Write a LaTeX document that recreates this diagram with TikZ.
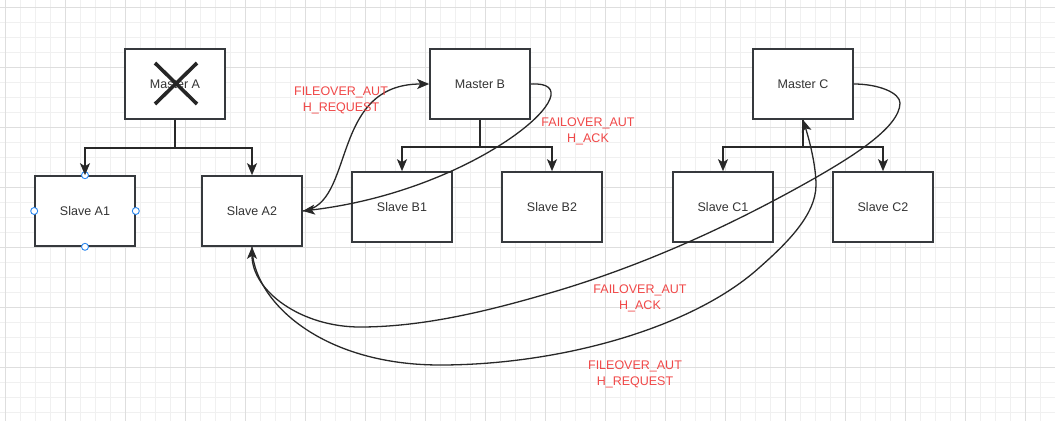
\documentclass[tikz,border=0pt]{standalone}
\usepackage{fontspec}
\setmainfont{Liberation Sans}
\usetikzlibrary{arrows.meta}
\definecolor{boxgray}{RGB}{54,57,61}
\definecolor{linkgray}{RGB}{40,40,40}
\definecolor{textgray}{RGB}{51,51,51}
\definecolor{notered}{RGB}{240,72,72}
\definecolor{handleblue}{RGB}{41,135,240}
\definecolor{gridminor}{RGB}{240,240,240}
\definecolor{gridmajor}{RGB}{222,222,222}
\tikzset{
  node-box/.style={
    rectangle,
    draw=boxgray,
    fill=white,
    line width=1.6pt,
    minimum width=100pt,
    minimum height=70pt,
    inner sep=0pt,
    text=textgray,
    font=\fontsize{12.5}{15}\selectfont
  },
  note-red/.style={
    align=center,
    text=notered,
    inner sep=0pt,
    font=\fontsize{12.5}{16}\selectfont
  },
  tree/.style={
    draw=linkgray,
    line width=1.6pt,
    -{Stealth[length=12pt,width=10pt,inset=3pt]}
  },
  link/.style={
    draw=linkgray,
    line width=1.3pt,
    -{Stealth[length=12pt,width=10pt,inset=3pt]}
  },
  handle/.style={
    circle,
    draw=handleblue,
    fill=white,
    line width=0.9pt,
    minimum size=7pt,
    inner sep=0pt
  }
}
\newcommand{\paperbg}{%
  \useasboundingbox (0,0) rectangle (1055,421);
  \fill[white] (0,0) rectangle (1055,421);
  \foreach \x in {5,20,...,1050}
    \draw[gridminor, line width=1pt] (\x,0) -- (\x,421);
  \foreach \y in {7.5,22.5,...,420}
    \draw[gridminor, line width=1pt] (0,\y) -- (1055,\y);
  \foreach \x in {5,65,...,1050}
    \draw[gridmajor, line width=1pt] (\x,0) -- (\x,421);
  \foreach \y in {7.5,67.5,...,420}
    \draw[gridmajor, line width=1pt] (0,\y) -- (1055,\y);
}

\begin{document}
\begin{tikzpicture}[x=1pt, y=-1pt]
  \paperbg
  \node[node-box] (mA) at (175,84) {Master A};
  \node[node-box] (sA1) at (85,211) {Slave A1};
  \node[node-box] (sA2) at (252,211) {Slave A2};
  \node[node-box] (mB) at (480,84) {Master B};
  \node[node-box] (sB1) at (402,207) {Slave B1};
  \node[node-box] (sB2) at (552,207) {Slave B2};
  \node[node-box] (mC) at (803,84) {Master C};
  \node[node-box] (sC1) at (723,207) {Slave C1};
  \node[node-box] (sC2) at (883,207) {Slave C2};
  \draw[black!85, line width=3.6pt] (155,63) -- (197,104);
  \draw[black!85, line width=3.6pt] (197,63) -- (155,104);
  \foreach \a in {north,south,east,west}
    \node[handle] at (sA1.\a) {};
  \draw[tree] (mA.south) -- ++(0,28) coordinate (jA) -| (sA1.north);
  \draw[tree] (jA) -| (sA2.north);
  \draw[tree] (mB.south) -- ++(0,27) coordinate (jB) -| (sB1.north);
  \draw[tree] (jB) -| (sB2.north);
  \draw[tree] (mC.south) -- ++(0,27) coordinate (jC) -| (sC1.north);
  \draw[tree] (jC) -| (sC2.north);
  \draw[link] (sA2.east) .. controls +(53,-6) and +(-100,0) .. (mB.west);
  \draw[link] (mB.east) .. controls +(70,-4) and +(178,-21) .. (sA2.east);
  \draw[link] (mC.east) .. controls (879,84) and (900,93) .. (900,103)
    .. controls (900,128) and (848,159) .. (815,178)
    .. controls (734,224) and (649,263) .. (560,290)
    .. controls (496,309) and (427,327) .. (360,327)
    .. controls (301,327) and (252,291) .. (sA2.south);
  \draw[link] (sA2.south) .. controls (252,300) and (320,365) .. (440,365)
    .. controls (560,365) and (693,328) .. (760,267)
    .. controls (786,244) and (816,215) .. (816,185)
    .. controls (816,165) and (809,139) .. (mC.south);
  \node[note-red] (reqB) at (341,100) {FILEOVER\_AUT\\H\_REQUEST};
  \node[note-red] (ackB) at (588,131) {FAILOVER\_AUT\\H\_ACK};
  \node[note-red] (ackC) at (640,298) {FAILOVER\_AUT\\H\_ACK};
  \node[note-red] (reqC) at (635,374) {FILEOVER\_AUT\\H\_REQUEST};
\end{tikzpicture}
\end{document}
